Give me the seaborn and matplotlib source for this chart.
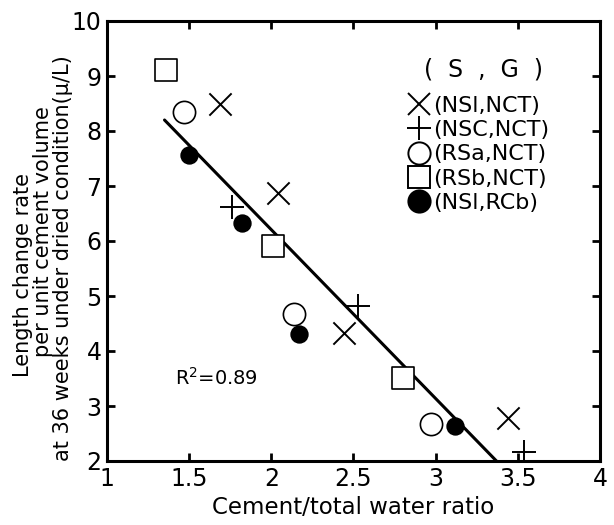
import numpy as np
import pandas as pd
import matplotlib
matplotlib.use("Agg")
import matplotlib.pyplot as plt
from matplotlib.lines import Line2D
import seaborn as sns

# ---- data ----
groups = ["(NSl,NCT)", "(NSC,NCT)", "(RSa,NCT)", "(RSb,NCT)", "(NSl,RCb)"]
legend_title = "(  S  ,  G  )"
x_nsl_nct = [1.69, 2.04, 2.44, 3.44]
y_nsl_nct = [8.49, 6.87, 4.33, 2.79]
x_nsc_nct = [1.76, 2.53, 3.54]
y_nsc_nct = [6.61, 4.81, 2.17]
x_rsa_nct = [1.47, 2.14, 2.97]
y_rsa_nct = [8.35, 4.67, 2.67]
x_rsb_nct = [1.36, 2.01, 2.80]
y_rsb_nct = [9.11, 5.91, 3.51]
x_nsl_rcb = [1.50, 1.82, 2.17, 3.12]
y_nsl_rcb = [7.56, 6.33, 4.31, 2.64]
fit_x = [1.35, 3.37]
fit_y = [8.2, 2.0]
r2_text = "R$^2$=0.89"
x_ticks = [1, 1.5, 2, 2.5, 3, 3.5, 4]
x_ticklabels = ["1", "1.5", "2", "2.5", "3", "3.5", "4"]
y_ticks = [2, 3, 4, 5, 6, 7, 8, 9, 10]

sns.set_theme(style="ticks")
plt.rcParams["font.family"] = ["DejaVu Sans"]
plt.rcParams["text.color"] = "black"
plt.rcParams["axes.labelcolor"] = "black"

fig = plt.figure(figsize=(6.14, 5.25), dpi=100)
ax = fig.add_axes([107/614, 1-461/525, (600-107)/614, (461-21)/525])

styles = [
    (x_nsl_nct, y_nsl_nct, "x", "black", "black", 16),
    (x_nsc_nct, y_nsc_nct, "+", "black", "black", 17),
    (x_rsa_nct, y_rsa_nct, "o", "white", "black", 16),
    (x_rsb_nct, y_rsb_nct, "s", "white", "black", 16),
    (x_nsl_rcb, y_nsl_rcb, "o", "black", "black", 12),
]
for (xs, ys, m, fc, ec, ms), g in zip(styles, groups):
    df = pd.DataFrame({"x": xs, "y": ys})
    if m in ("x", "+"):
        sns.scatterplot(data=df, x="x", y="y", marker=m, color="black",
                        s=ms**2, linewidth=1.4, ax=ax, zorder=3)
    else:
        sns.scatterplot(data=df, x="x", y="y", marker=m, facecolor=fc,
                        edgecolor=ec, s=ms**2, linewidth=1.2, ax=ax, zorder=3)

sns.lineplot(x=fit_x, y=fit_y, color="black", linewidth=2.2, ax=ax, zorder=2)

ax.set_xlim(1, 4)
ax.set_ylim(2, 10)
ax.set_xticks(x_ticks)
ax.set_xticklabels(x_ticklabels)
ax.set_yticks(y_ticks)
ax.tick_params(direction="in", length=6, width=2, top=True, right=True,
               labelsize=17, pad=4, colors="black", labelcolor="black")
for sp in ax.spines.values():
    sp.set_linewidth(2.2)
    sp.set_color("black")
ax.set_xlabel("Cement/total water ratio", fontsize=16.5, labelpad=4, color="black")
ax.set_ylabel("")

ylab = ("Length change rate" + " " * 5 + "\n"
        + " " * 8 + "per unit cement volume\n"
        + "at 36 weeks under dried condition(\u03bc/L)")
fig.text(43/614, 1-258/525, ylab, rotation=90, fontsize=15, ha="center",
         va="center", multialignment="center", linespacing=0.98, color="black")

ax.text(1.415, 3.51, r2_text, fontsize=14, ha="left", va="center", color="black")

handles = []
for (xs, ys, m, fc, ec, ms), g in zip(styles, groups):
    handles.append(Line2D([], [], linestyle="none", marker=m,
                          markersize=16 if m != "+" else 17,
                          markerfacecolor=fc, markeredgecolor=ec,
                          markeredgewidth=1.4, color="black"))
leg = ax.legend(handles, groups, loc="upper left",
                bbox_to_anchor=(409/614, 1-96/525), bbox_transform=fig.transFigure,
                frameon=False, fontsize=16, handlelength=0.9, handletextpad=0.2,
                labelspacing=0.19, borderpad=0, borderaxespad=0)
for t in leg.get_texts():
    t.set_color("black")
fig.text(483/614, 1-70/525, legend_title, fontsize=17, ha="center", va="center",
         color="black")

fig.savefig("out.png", dpi=100)
